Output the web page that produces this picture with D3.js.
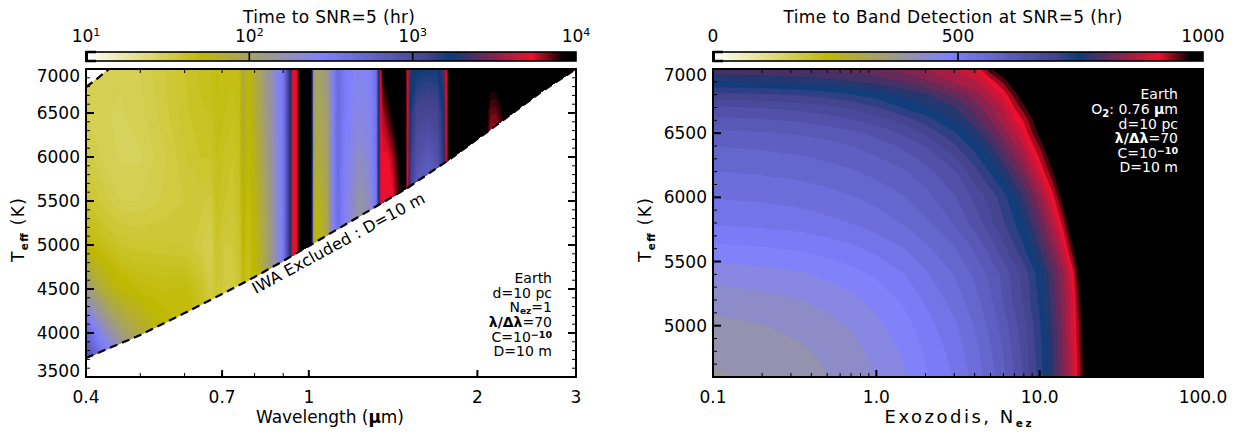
<!DOCTYPE html>
<html><head><meta charset="utf-8">
<script src="https://cdn.jsdelivr.net/npm/d3@7"></script>
<style>html,body{margin:0;padding:0;background:#fff}svg{display:block}text{font-family:"DejaVu Sans",sans-serif;fill:#000}</style>
</head><body><svg id="c" width="1242" height="434"></svg>
<script>
// ---- colour table (fraction of colour bar -> colour)
const colorFractions=[0,.235,.48,.70,.745,.91,.975,1];
const colorValues=["#ffffff","#c0b900","#8080ff","#41418c","#0a3c78","#f00f2d","#000000","#000000"];

// ---- left panel: log10(time in hours) on wavelength x Teff grid
const wavelengths=[.400,.4237,.460,.4995,.5536,.601,.639,.669,.685,.706,.732,.754,.763,.779,.811,.845,.881,.903,.926,.937,.952,.964,1.009,1.017,1.038,1.082,1.100,1.127,1.160,1.199,1.234,1.286,1.323,1.334,1.346,1.357,1.385,1.413,1.443,1.473,1.485,1.497,1.516,1.554,1.632,1.701,1.743,1.765,1.78,2.072,2.106,2.159,2.222,2.259,3.0];
const teffLeft=[3500,4000,4500,5000,5500,6000,6500,7000];
const logTime3500=[3.2,2.85,2.5,2.2,1.9,1.8,1.72,1.65,1.62,1.56,1.52,1.58,1.66,1.62,1.78,2.0,2.3,2.55,3.2,3.7,3.74,3.97,3.97,1.8,1.7,1.95,2.35,2.6,2.4,2.25,2.1,2.25,2.58,3.2,3.73,3.72,3.72,3.73,3.85,3.97,3.97,3.75,3.0,2.7,2.6,2.7,3.1,3.7,3.97,3.97,3.7,3.7,3.8,3.97,3.98];
const logTime4000=[2.7,2.38,2.08,1.9,1.74,1.7,1.68,1.6,1.62,1.56,1.52,1.58,1.66,1.62,1.78,2.0,2.3,2.55,3.2,3.7,3.74,3.97,3.97,1.8,1.7,1.95,2.35,2.6,2.4,2.25,2.1,2.25,2.58,3.2,3.73,3.72,3.72,3.73,3.85,3.97,3.97,3.75,3.0,2.7,2.6,2.7,3.1,3.7,3.97,3.97,3.7,3.7,3.8,3.97,3.98];
const logTime4500=[2.1,1.9,1.74,1.69,1.67,1.68,1.62,1.52,1.58,1.54,1.52,1.58,1.68,1.62,1.78,2.0,2.3,2.55,3.2,3.7,3.74,3.97,3.97,1.8,1.7,1.95,2.35,2.6,2.4,2.25,2.1,2.25,2.58,3.2,3.73,3.72,3.72,3.73,3.85,3.97,3.97,3.75,3.0,2.7,2.6,2.7,3.1,3.7,3.97,3.97,3.7,3.7,3.8,3.97,3.98];
const logTime5000=[1.72,1.66,1.6,1.58,1.58,1.57,1.53,1.49,1.6,1.55,1.55,1.6,1.72,1.64,1.8,2.02,2.32,2.55,3.2,3.7,3.74,3.97,3.97,1.8,1.72,1.95,2.35,2.6,2.4,2.25,2.12,2.25,2.58,3.2,3.73,3.72,3.72,3.73,3.85,3.97,3.97,3.75,3.0,2.7,2.6,2.7,3.1,3.7,3.97,3.97,3.7,3.7,3.8,3.97,3.98];
const logTime5500=[1.6,1.55,1.5,1.5,1.53,1.55,1.56,1.54,1.63,1.6,1.58,1.62,1.78,1.66,1.84,2.04,2.34,2.55,3.2,3.7,3.74,3.97,3.97,1.9,1.78,1.98,2.35,2.62,2.42,2.3,2.18,2.3,2.58,3.2,3.73,3.72,3.72,3.73,3.85,3.97,3.97,3.75,3.05,2.8,2.7,2.8,3.12,3.7,3.97,3.97,3.7,3.7,3.78,3.97,3.98];
const logTime6000=[1.54,1.5,1.47,1.47,1.52,1.57,1.6,1.6,1.65,1.62,1.6,1.64,1.85,1.68,1.88,2.08,2.36,2.55,3.2,3.7,3.74,3.97,3.97,2.0,1.88,2.02,2.35,2.65,2.45,2.35,2.28,2.36,2.6,3.2,3.74,3.74,3.74,3.8,3.92,3.97,3.97,3.75,3.15,2.95,2.85,2.95,3.2,3.72,3.97,3.97,3.72,3.73,3.8,3.97,3.98];
const logTime6500=[1.5,1.48,1.47,1.49,1.54,1.59,1.62,1.63,1.67,1.65,1.63,1.66,1.9,1.7,1.92,2.12,2.38,2.55,3.2,3.7,3.74,3.97,3.97,2.05,1.95,2.05,2.35,2.65,2.48,2.4,2.38,2.4,2.6,3.2,3.74,3.8,3.88,3.95,3.98,3.98,3.97,3.75,3.22,3.08,3.05,3.08,3.25,3.74,3.97,3.97,3.86,3.85,3.93,3.97,3.98];
const logTime7000=[1.5,1.49,1.48,1.5,1.55,1.6,1.63,1.65,1.68,1.66,1.66,1.68,1.95,1.72,1.95,2.15,2.41,2.55,3.2,3.7,3.74,3.97,3.97,2.1,2.0,2.15,2.38,2.65,2.5,2.42,2.4,2.42,2.62,3.2,3.74,3.97,3.98,3.98,3.98,3.98,3.97,3.75,3.35,3.25,3.22,3.23,3.4,3.74,3.97,3.98,4,4,4,3.98,3.98];
// Inner working angle limit
const iwaWavelength=[.4,.5,.6,.7,.8,.9,1,1.2,1.5,1.8,2.2,2.6,3];
const iwaTeff=[3716,3977,4227,4443,4636,4818,4989,5284,5648,5989,6398,6739,7000];
const iwaCornerWavelength=[.4,.418,.4396];
const iwaCornerTeff=[6795,6886,7000];

// ---- right panel: time (hr) on exozodi x Teff grid
const exozodis=[.1,.2,.35,.5,.7,1,1.5,2,3,4,5,6,8,10,12,14,16,18,20,30,100];
const teffRight=[4600,4800,5000,5200,5400,5600,5800,6000,6200,6400,6500,6600,6700,6800,6900,7000];
const t4600=[400,407,416,426,436,451,473,495,525,555,585,612,668,724,780,838,892,960,1028,1100,1100];
const t4800=[408,414,423,433,443,458,480,502,532,562,592,620,676,730,785,840,895,968,1030,1100,1100];
const t5000=[420,426,435,443,453,469,490,512,542,572,602,630,682,735,790,845,900,975,1040,1100,1100];
const t5200=[437,443,451,459,468,483,504,526,557,585,615,645,695,745,798,850,905,990,1060,1100,1100];
const t5400=[460,465,472,480,489,503,523,543,572,600,625,650,700,752,805,855,920,1015,1090,1100,1100];
const t5600=[492,496,502,509,517,530,547,565,592,622,652,682,735,787,840,895,975,1050,1100,1100,1100];
const t5800=[525,529,534,540,547,558,574,590,621,652,684,712,760,818,875,945,1030,1100,1100,1100,1100];
const t6000=[548,551,556,562,569,579,594,610,640,672,700,728,790,853,918,1000,1080,1100,1100,1100,1100];
const t6200=[570,574,579,585,592,602,617,633,664,705,742,775,838,905,975,1045,1100,1100,1100,1100,1100];
const t6400=[595,599,604,610,618,630,648,668,710,749,785,820,885,957,1030,1100,1100,1100,1100,1100,1100];
const t6500=[612,616,622,628,636,650,672,695,735,775,810,845,910,990,1060,1100,1100,1100,1100,1100,1100];
const t6600=[635,640,646,654,664,678,702,725,765,800,835,870,933,1010,1080,1100,1100,1100,1100,1100,1100];
const t6700=[662,668,676,684,694,712,742,758,785,820,855,885,970,1050,1100,1100,1100,1100,1100,1100,1100];
const t6800=[705,710,717,725,737,750,770,785,818,850,882,912,1010,1090,1100,1100,1100,1100,1100,1100,1100];
const t6900=[762,766,771,777,785,795,812,830,860,880,915,960,1050,1100,1100,1100,1100,1100,1100,1100,1100];
const t7000=[805,808,812,816,822,830,845,860,885,905,975,1015,1080,1100,1100,1100,1100,1100,1100,1100,1100];

// ---- ticks
const leftXMajor=[.4,.7,1,2,3];
const leftXShort=[.5,.6,.7,.8,.9,2];
const rightXMajor=[.1,1,10,100];
const rightXMinor=[.2,.3,.4,.5,.6,.7,.8,.9,2,3,4,5,6,7,8,9,20,30,40,50,60,70,80,90];
const leftYMajor=[3500,4000,4500,5000,5500,6000,6500,7000];
const rightYMajor=[5000,5500,6000,6500,7000];
const yMinorLeft=d3.range(3500,7001,100);
const yMinorRight=d3.range(4600,7001,100);

const svg=d3.select("#c");
const defs=svg.append("defs");
const yTop=69,bot=377;
const colorOf=d3.scaleLinear().domain(colorFractions).range(colorValues).interpolate(d3.interpolateRgb).clamp(true);

function rich(sel,parts){
  parts.forEach(p=>{
    const s=sel.append("tspan").text(p.t);
    if(p.dy)s.attr("dy",p.dy);
    if(p.size)s.attr("font-size",p.size);
    if(p.bold)s.attr("font-weight","bold");
  });
  return sel;
}
function label(x,y,parts,opt={}){
  const t=svg.append("text").attr("x",x).attr("y",y)
    .attr("font-size",opt.size||17).attr("text-anchor",opt.anchor||"middle")
    .style("fill",opt.fill||"#000");
  if(opt.ls)t.attr("letter-spacing",opt.ls);
  if(opt.rot!=null)t.attr("transform",`rotate(${opt.rot} ${x} ${y})`);
  if(opt.len)t.attr("textLength",opt.len).attr("lengthAdjust","spacing");
  rich(t,typeof parts==="string"?[{t:parts}]:parts);
  return t;
}

function heat(id,gridX,gridY,x,y,flat,levels,toFrac,clip){
  const n=gridX.length,m=gridY.length;
  const px=d3.scaleLinear().domain(d3.range(n)).range(gridX.map(x)).clamp(true);
  const py=d3.scaleLinear().domain(d3.range(m)).range(gridY.map(y)).clamp(true);
  const path=d3.geoPath(d3.geoTransform({point(a,b){this.stream.point(px(a-.5),py(b-.5));}}));
  const cs=d3.contours().size([n,m]).thresholds(levels)(flat);
  const g=svg.append("g").attr("clip-path",`url(#${clip})`);
  g.selectAll("path").data(cs).join("path")
    .attr("d",path).attr("fill",d=>colorOf(toFrac(d.value))).attr("stroke",d=>colorOf(toFrac(d.value))).attr("stroke-width",.3);
}

function frame(x,y,xMajor,xMinor,yMajor,yMinor,xFmt,yLabelClamp){
  const [x0,x1]=x.range();
  const xb=g=>g.selectAll("text").remove();
  svg.append("g").attr("transform",`translate(0,${bot})`)
    .call(d3.axisBottom(x).tickValues(xMinor).tickSize(-4).tickFormat("").offset(0)).call(xb).select(".domain").attr("stroke-width",2);
  svg.append("g").attr("transform",`translate(0,${yTop})`)
    .call(d3.axisTop(x).tickValues(xMinor).tickSize(-4).tickFormat("").offset(0)).call(xb).select(".domain").attr("stroke-width",2);
  svg.append("g").attr("transform",`translate(${x0},0)`)
    .call(d3.axisLeft(y).tickValues(yMinor).tickSize(-4).tickFormat("").offset(0)).call(xb).select(".domain").attr("stroke-width",2);
  svg.append("g").attr("transform",`translate(${x1},0)`)
    .call(d3.axisRight(y).tickValues(yMinor).tickSize(-4).tickFormat("").offset(0)).call(xb).select(".domain").attr("stroke-width",2);
  const ga=svg.append("g").attr("transform",`translate(${x0},0)`)
    .call(d3.axisLeft(y).tickValues(yMajor).tickSize(-8).tickPadding(6).tickFormat(d3.format("d")).offset(0));
  ga.select(".domain").remove();
  ga.selectAll("line").attr("stroke-width",2);
  ga.selectAll("text").attr("font-size",17).attr("font-family",null).attr("dy",null).attr("dominant-baseline",null)
    .attr("y",d=>Math.min(yLabelClamp[1],Math.max(yLabelClamp[0],y(d)))-y(d)+6);
  const gr=svg.append("g").attr("transform",`translate(${x1},0)`)
    .call(d3.axisRight(y).tickValues(yMajor).tickSize(-8).tickFormat("").offset(0));
  gr.select(".domain").remove(); gr.selectAll("line").attr("stroke-width",2); gr.selectAll("text").remove();
  const gb=svg.append("g").attr("transform",`translate(0,${bot})`)
    .call(d3.axisBottom(x).tickValues(xMajor).tickSize(-7).tickPadding(0).tickFormat(xFmt).offset(0));
  gb.select(".domain").remove();
  gb.selectAll("line").attr("stroke-width",2);
  gb.selectAll("text").attr("font-size",17).attr("font-family",null).attr("dy",null).attr("y",26);
}

function colorbar(id,x0,x1,scale,ticks,labels){
  const lg=defs.append("linearGradient").attr("id",id);
  colorFractions.forEach((f,i)=>lg.append("stop").attr("offset",f).attr("stop-color",colorValues[i]));
  svg.append("rect").attr("x",x0).attr("y",52).attr("width",x1-x0).attr("height",9).attr("fill",`url(#${id})`).attr("stroke","#000").attr("stroke-width",1.6);
  svg.append("path").attr("d",`M${x0},52H${x0+10}M${x0},61H${x0+10}`).attr("stroke","#000").attr("stroke-width",2.6);
  svg.append("rect").attr("x",x0-1).attr("y",51).attr("width",3).attr("height",11).attr("fill","#000");
  ticks.forEach(t=>svg.append("line").attr("x1",scale(t)).attr("x2",scale(t)).attr("y1",52).attr("y2",61).attr("stroke","#000").attr("stroke-width",1.6));
}

// ===== LEFT PANEL
const xL=d3.scaleLog().domain([.4,3]).range([86,576]);
const yL=d3.scaleLinear().domain([3500,7000]).range([bot,yTop]);
const iwaLine=d3.line().x(d=>xL(d[0])).y(d=>yL(d[1]));
const iwaMain=iwaWavelength.map((w,i)=>[w,iwaTeff[i]]);
const iwaCorner=iwaCornerWavelength.map((w,i)=>[w,iwaCornerTeff[i]]);
const clipPoly=[...iwaCorner,[3,7000],...iwaMain.slice().reverse()];
defs.append("clipPath").attr("id","clipL").append("polygon")
  .attr("points",clipPoly.map(d=>[xL(d[0]),yL(d[1])].join(",")).join(" "));
const leftRows=[logTime3500,logTime4000,logTime4500,logTime5000,logTime5500,logTime6000,logTime6500,logTime7000];
heat("L",wavelengths,teffLeft,xL,yL,leftRows.flat(),d3.range(1.0,4.01,.025),v=>(v-1)/3,"clipL");
svg.append("path").attr("d",iwaLine(iwaMain)).attr("fill","none").attr("stroke","#000").attr("stroke-width",2.2).attr("stroke-dasharray","8,5");
svg.append("path").attr("d",iwaLine(iwaCorner)).attr("fill","none").attr("stroke","#000").attr("stroke-width",2.2).attr("stroke-dasharray","8,5");
frame(xL,yL,leftXMajor,leftXShort,leftYMajor,yMinorLeft,d=>String(d),[76,371]);
const cL=d3.scaleLog().domain([10,10000]).range([86,576]);
colorbar("gL",86,576,cL,[100,1000]);
label(329,23,"Time to SNR=5 (hr)",{len:172});
[[10,1],[100,2],[1000,3],[10000,4]].forEach(([v,e])=>label(cL(v),42,[{t:"10"},{t:String(e),dy:-6,size:11}],{size:17}));
label(330,423,[{t:"Wavelength ("},{t:"µ",bold:true},{t:"m)"}],{len:148});
label(24,230,[{t:"T"},{t:"eff",dy:4,size:10.5,bold:true},{t:" (K)",dy:-4}],{rot:-90,len:64});
label(341,248,"IWA Excluded : D=10 m",{rot:-28.5,len:194,size:16});
[[283,[{t:"Earth"}]],[298,[{t:"d=10 pc"}]],[312,[{t:"N"},{t:"ez",dy:2,size:9,bold:true},{t:"=1",dy:-2}]],
 [327,[{t:"λ/Δλ",bold:true},{t:"=70"}]],[342,[{t:"C=10"},{t:"−10",dy:-4,size:9.5,bold:true}]],[356,[{t:"D=10 m"}]]]
 .forEach(([y,p])=>label(552,y,p,{size:14,anchor:"end"}));

// ===== RIGHT PANEL
const xR=d3.scaleLog().domain([.1,100]).range([713,1203]);
const yR=d3.scaleLinear().domain([4600,7000]).range([bot,yTop]);
defs.append("clipPath").attr("id","clipR").append("rect").attr("x",713).attr("y",yTop).attr("width",490).attr("height",bot-yTop);
const rightRows=[t4600,t4800,t5000,t5200,t5400,t5600,t5800,t6000,t6200,t6400,t6500,t6600,t6700,t6800,t6900,t7000];
heat("R",exozodis,teffRight,xR,yR,rightRows.flat(),d3.range(379,1052,24),v=>v/1000,"clipR");
frame(xR,yR,rightXMajor,rightXMinor,rightYMajor,yMinorRight,d3.format(".1f"),[75,371]);
const cR=d3.scaleLinear().domain([0,1000]).range([713,1203]);
colorbar("gR",713,1203,cR,[500]);
label(953,23,"Time to Band Detection at SNR=5 (hr)",{len:339});
[0,500,1000].forEach(v=>label(cR(v),42,String(v),{size:17}));
label(958,423,[{t:"Exozodis, N"},{t:"ez",dy:4,size:10.5,bold:true}],{size:18,len:147});
label(651,230,[{t:"T"},{t:"eff",dy:4,size:10.5,bold:true},{t:" (K)",dy:-4}],{rot:-90,len:64});
[[99,[{t:"Earth"}]],[114,[{t:"O"},{t:"2",dy:3,size:10,bold:true},{t:": 0.76 ",dy:-3},{t:"µ",bold:true},{t:"m"}]],[129,[{t:"d=10 pc"}]],
 [143,[{t:"λ/Δλ",bold:true},{t:"=70"}]],[158,[{t:"C=10"},{t:"−10",dy:-4,size:9.5,bold:true}]],[172,[{t:"D=10 m"}]]]
 .forEach(([y,p])=>label(1178,y,p,{size:14,anchor:"end",fill:"#fff"}));
</script></body></html>
